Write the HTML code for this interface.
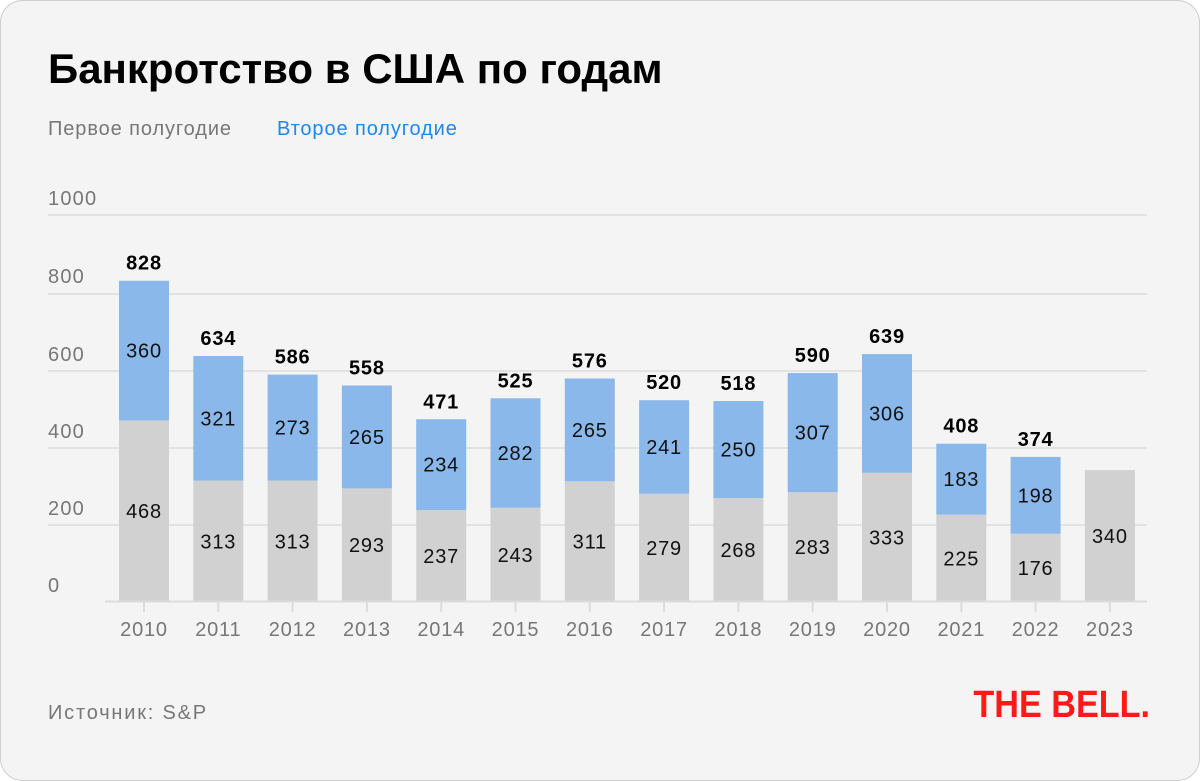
<!DOCTYPE html>
<html><head><meta charset="utf-8"><style>
html,body{margin:0;padding:0;background:#fff;}
svg{display:block;font-family:"Liberation Sans","DejaVu Sans",sans-serif;}
</style></head><body>
<svg width="1200" height="781" viewBox="0 0 1200 781" xmlns="http://www.w3.org/2000/svg">
<rect x="0.5" y="0.5" width="1199" height="780" rx="22" fill="#f4f4f4" stroke="#cfcfcf"/>
<text x="48" y="83" font-size="42" font-weight="bold" fill="#000">Банкротство в США по годам</text>
<text x="48" y="135" font-size="20" letter-spacing="0.9" fill="#777">Первое полугодие</text>
<text x="277" y="135" font-size="20" letter-spacing="0.9" fill="#1e87f0">Второе полугодие</text>
<g stroke="#e2e2e2" stroke-width="2">
<line x1="48" y1="215" x2="1147" y2="215"/>
<line x1="48" y1="294" x2="1147" y2="294"/>
<line x1="48" y1="371" x2="1147" y2="371"/>
<line x1="48" y1="448" x2="1147" y2="448"/>
<line x1="48" y1="525" x2="1147" y2="525"/>
</g>
<g font-size="20" letter-spacing="1.2" fill="#777">
<text x="48" y="205">1000</text>
<text x="48" y="283">800</text>
<text x="48" y="361">600</text>
<text x="48" y="438">400</text>
<text x="48" y="515">200</text>
<text x="48" y="592">0</text>
</g>
<g id="bars"></g>
<line x1="105" y1="601.5" x2="1147" y2="601.5" stroke="#dcdcdc" stroke-width="2"/>
<g id="ticks"></g>
<text x="48" y="719" font-size="20" letter-spacing="1.8" fill="#777">Источник: S&amp;P</text>
<text x="1150" y="717" font-size="38" font-weight="bold" fill="#ff1a1a" text-anchor="end" transform="translate(1150 0) scale(0.9 1) translate(-1150 0)">THE BELL.</text>
<script>
var a=[468,313,313,293,237,243,311,279,268,283,333,225,176,340];
var b=[360,321,273,265,234,282,265,241,250,307,306,183,198,0];
var k=0.388,y0=602,ns="http://www.w3.org/2000/svg";
var g=document.getElementById('bars'),t=document.getElementById('ticks');
function el(p,n,at,txt){var e=document.createElementNS(ns,n);for(var q in at)e.setAttribute(q,at[q]);if(txt!==undefined)e.textContent=txt;p.appendChild(e);return e;}
for(var i=0;i<14;i++){
 var cx=144+i*74.3,ya=y0-a[i]*k,yb=ya-b[i]*k;
 el(g,'rect',{x:cx-25,y:ya,width:50,height:a[i]*k,fill:'#d1d1d1'});
 el(g,'text',{x:cx,y:(ya+y0)/2+7,'font-size':20,'letter-spacing':0.8,'text-anchor':'middle',fill:'#111'},a[i]);
 if(b[i]){
  el(g,'rect',{x:cx-25,y:yb,width:50,height:b[i]*k,fill:'#8ab8ea'});
  el(g,'text',{x:cx,y:(ya+yb)/2+7,'font-size':20,'letter-spacing':0.8,'text-anchor':'middle',fill:'#111'},b[i]);
  el(g,'text',{x:cx,y:yb-11,'font-size':20,'letter-spacing':0.8,'font-weight':'bold','text-anchor':'middle',fill:'#000'},a[i]+b[i]);
 }
 el(t,'line',{x1:cx,y1:602,x2:cx,y2:612,stroke:'#dcdcdc','stroke-width':2});
 el(t,'text',{x:cx,y:636,'font-size':20,'letter-spacing':0.8,'text-anchor':'middle',fill:'#777'},2010+i);
}
</script>
</svg>
</body></html>
